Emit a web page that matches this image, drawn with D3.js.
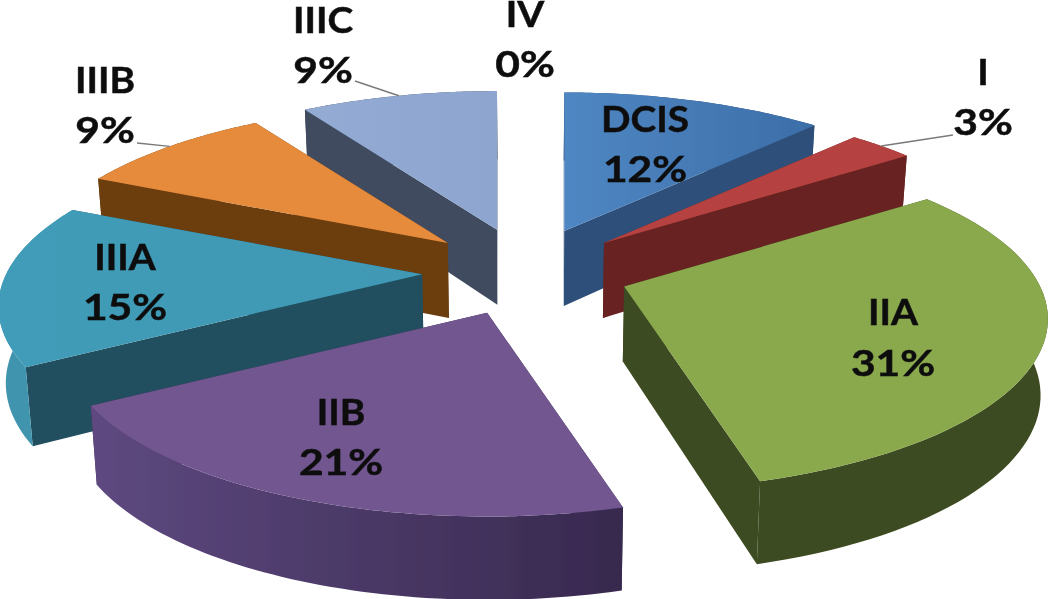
<!DOCTYPE html>
<html>
<head>
<meta charset="utf-8">
<script src="https://cdn.jsdelivr.net/npm/d3@7"></script>
<style>
  html, body { margin: 0; padding: 0; background: #fff; }
  svg { display: block; }
  text { font-family: Lato, "Open Sans", sans-serif; font-weight: 700; fill: #111; stroke: #111; stroke-width: 0.5; text-anchor: middle; }
</style>
</head>
<body>
<svg id="chart" width="1050" height="599"></svg>
<script>
// Stage breakdown, clockwise from 12 o'clock (labels show these rounded)
const stages = ["DCIS", "I", "IIA", "IIB", "IIIA", "IIIB", "IIIC", "IV"];
const percents = [12, 3, 30.7, 20.8, 15.4, 9.1, 9, 0];

// Colours, same order as stages
const topFrom = ["#4f87c3", "#b5423f", "#8aa94d", "#72568f", "#409cb8", "#e68a3b", "#94abd4", "#000"];
const topTo = ["#3c6ea8", "#b5423f", "#8aa94d", "#72568f", "#3f98b4", "#e68a3b", "#8da5cf", "#000"];
const sideColors = ["#2d4f7a", "#672220", "#3e4b20", "#3a2b52", "#214f5e", "#6c3d10", "#3f4c60", "#000"];
const rimLeft = ["#2d4f7a", "#672220", "#3e4b20", "#5e4980", "#3f94ae", "#6c3d10", "#3f4c60", "#000"];
const rimRight = ["#2d4f7a", "#672220", "#3e4b20", "#37294e", "#3f94ae", "#6c3d10", "#3f4c60", "#000"];

// Label placement: centre x, first baseline, second baseline
const labelSpots = {
    DCIS: [645, 132, 182], I: [983, 85, 135], IIA: [893, 325, 376], IIB: [341, 425, 475],
    IIIA: [125, 270, 320], IIIB: [105, 93, 143], IIIC: [323, 33, 83], IV: [525, 27, 77]
};
// Only the small outer slices get a leader line
const leaderEnds = { I: [953, 135], IIIB: [137, 143], IIIC: [355, 81] };

// Pie "camera"
const cx = 526, cy = 272;
const explodeX = 104, explodeY = 44;
const radiusX = 416, radiusY = 165;
const persp = 0.19;
const depth = 75, depthPersp = 0.1, bottomShrink = 0.986;

const svg = d3.select("#chart");
const defs = svg.append("defs");
defs.append("filter").attr("id", "soft")
    .append("feGaussianBlur").attr("stdDeviation", 0.6);
const root = svg.append("g").attr("filter", "url(#soft)");

const arcs = d3.pie().sort(null).value(d => d.value).startAngle(0).endAngle(2 * Math.PI)(
    stages.map((stage, i) => ({ stage, value: percents[i], i }))
);

// local slice coords (r, angle) -> screen, apex moved out along the bisector
function project(arc, r, a) {
    const mid = (arc.startAngle + arc.endAngle) / 2;
    const t = -r * Math.cos(a);
    const f = 1 / (1 - persp * t);
    return [
        cx + explodeX * Math.sin(mid) + radiusX * r * Math.sin(a) * f,
        cy - explodeY * Math.cos(mid) + radiusY * t * f
    ];
}

function lower(arc, r, a) {
    const p = project(arc, r, a);
    const t = -r * Math.cos(a);
    return [cx + (p[0] - cx) * bottomShrink, p[1] + depth / (1 - depthPersp * t)];
}

const line = d3.line();

function rimAngles(arc) {
    return d3.range(0, 61).map(k => arc.startAngle + (arc.endAngle - arc.startAngle) * k / 60);
}

function gradient(id, from, to, x1, x2) {
    const g = defs.append("linearGradient").attr("id", id)
        .attr("gradientUnits", "userSpaceOnUse")
        .attr("x1", x1).attr("x2", x2).attr("y1", 0).attr("y2", 0);
    g.append("stop").attr("offset", 0).attr("stop-color", from);
    g.append("stop").attr("offset", 1).attr("stop-color", to);
    return `url(#${id})`;
}

// Painter's order: far slices first
const drawn = arcs.filter(d => d.value > 0)
    .sort((a, b) => d3.ascending(
        -Math.cos((a.startAngle + a.endAngle) / 2),
        -Math.cos((b.startAngle + b.endAngle) / 2)
    ));

drawn.forEach(arc => {
    const i = arc.data.i;
    const g = root.append("g").attr("class", "slice");
    const angles = rimAngles(arc);
    const top = angles.map(a => project(arc, 1, a));
    const bottom = angles.map(a => lower(arc, 1, a));
    const apex = project(arc, 0, 0);
    const apexLow = lower(arc, 0, 0);
    const xs = top.map(p => p[0]);
    const x0 = Math.min(apex[0], d3.min(xs));
    const x1 = Math.max(apex[0], d3.max(xs));

    [0, angles.length - 1].forEach(k => {
        g.append("path")
            .attr("d", line([apex, top[k], bottom[k], apexLow]) + "Z")
            .attr("fill", sideColors[i]);
    });
    g.append("path")
        .attr("d", line(top.concat(bottom.slice().reverse())) + "Z")
        .attr("fill", gradient("rim" + i, rimLeft[i], rimRight[i], x0, x1));
    g.append("path")
        .attr("d", line([apex].concat(top)) + "Z")
        .attr("fill", gradient("top" + i, topFrom[i], topTo[i], x0, x1));
});

// Leader lines run from the rim at mid-slice out to the label
arcs.forEach(arc => {
    const end = leaderEnds[arc.data.stage];
    if (!end) return;
    root.append("path")
        .attr("d", line([project(arc, 1, (arc.startAngle + arc.endAngle) / 2), end]))
        .attr("fill", "none").attr("stroke", "#7a7a7a").attr("stroke-width", 1.4);
});

// The source picture was stretched sideways, so the text is too
const labels = svg.append("g").attr("filter", "url(#soft)").attr("font-size", 37);
arcs.forEach(arc => {
    const spot = labelSpots[arc.data.stage];
    labels.append("text")
        .attr("transform", `translate(${spot[0]},${spot[1]}) scale(1.05,1)`)
        .text(arc.data.stage);
    labels.append("text")
        .attr("transform", `translate(${spot[0]},${spot[2]}) scale(1.15,1)`)
        .text(Math.round(arc.data.value) + "%");
});
</script>
</body>
</html>
